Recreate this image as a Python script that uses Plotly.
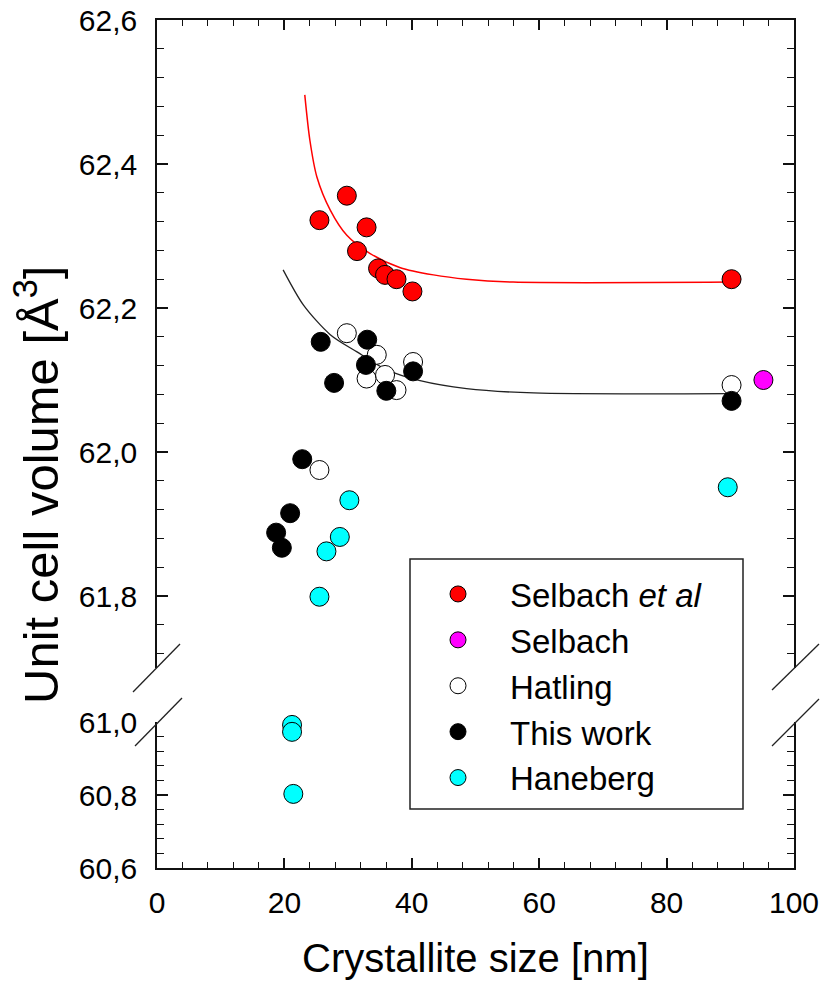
import plotly.graph_objects as go

# Crystallite size [nm] and unit cell volume [Å^3] for each data set
selbach_et_al_size = [29.8, 25.5, 32.9, 31.4, 34.7, 35.8, 37.6, 40.1, 90.2]
selbach_et_al_vol = [62.356, 62.322, 62.312, 62.279, 62.255, 62.246, 62.240, 62.223, 62.240]

selbach_size = [95.2]
selbach_vol = [62.100]

hatling_size = [29.8, 34.5, 32.9, 35.8, 37.6, 40.2, 25.5, 90.2]
hatling_vol = [62.165, 62.135, 62.102, 62.107, 62.086, 62.125, 61.975, 62.093]

this_work_size = [25.7, 33.0, 32.8, 27.8, 36.0, 40.2, 22.8, 20.9, 18.7, 19.6, 90.2]
this_work_vol = [62.153, 62.156, 62.121, 62.096, 62.085, 62.112, 61.990, 61.915, 61.888, 61.867, 62.071]

haneberg_size = [30.2, 28.7, 26.6, 25.5, 89.6, 21.2, 21.2, 21.4]
haneberg_vol = [61.933, 61.882, 61.862, 61.799, 61.951, 60.992, 60.973, 60.803]

# Fitted trend lines
red_fit_size = [23.2, 24.0, 25.1, 27.2, 29.8, 33.4, 38.2, 43.4, 48.6, 55.9, 90.1]
red_fit_vol = [62.496, 62.433, 62.382, 62.336, 62.301, 62.276, 62.256, 62.246, 62.240, 62.236, 62.236]

black_fit_size = [19.8, 23.0, 27.2, 31.4, 36.1, 41.3, 48.6, 59.1, 90.1]
black_fit_vol = [62.253, 62.204, 62.163, 62.139, 62.114, 62.099, 62.088, 62.082, 62.081]

# Broken y axis: upper and lower ranges
upper_range = [61.7, 62.6]
lower_range = [60.6, 61.0]
x_range = [0, 100]

FONT = "Liberation Sans, Arial, sans-serif"
MARKER_SIZE = 19

fig = go.Figure()

# trend lines (drawn beneath the markers)
fig.add_trace(go.Scatter(x=red_fit_size, y=red_fit_vol, mode="lines", xaxis="x2", yaxis="y",
                         line=dict(color="#ff0000", width=1.5, shape="spline", smoothing=0.8),
                         showlegend=False, hoverinfo="skip"))
fig.add_trace(go.Scatter(x=black_fit_size, y=black_fit_vol, mode="lines", xaxis="x2", yaxis="y",
                         line=dict(color="#222222", width=1.3, shape="spline", smoothing=0.8),
                         showlegend=False, hoverinfo="skip"))


def marker(color):
    return dict(size=MARKER_SIZE, color=color, line=dict(color="black", width=1))


series = [
    ("Selbach <i>et al</i>", selbach_et_al_size, selbach_et_al_vol, "#ff0000"),
    ("Selbach", selbach_size, selbach_vol, "#ff00ff"),
    ("Hatling", hatling_size, hatling_vol, "#ffffff"),
    ("This work", this_work_size, this_work_vol, "#000000"),
    ("Haneberg", haneberg_size, haneberg_vol, "#00ffff"),
]

for i, (name, xs, ys, color) in enumerate(series):
    up_x = [x for x, y in zip(xs, ys) if y >= upper_range[0]]
    up_y = [y for y in ys if y >= upper_range[0]]
    lo_x = [x for x, y in zip(xs, ys) if y <= lower_range[1]]
    lo_y = [y for y in ys if y <= lower_range[1]]
    fig.add_trace(go.Scatter(x=up_x, y=up_y, mode="markers", name=name, xaxis="x2", yaxis="y",
                             marker=marker(color), legendgroup=f"g{i}", cliponaxis=False))
    if lo_x:
        fig.add_trace(go.Scatter(x=lo_x, y=lo_y, mode="markers", name=name, xaxis="x", yaxis="y2",
                                 marker=marker(color), legendgroup=f"g{i}", showlegend=False,
                                 cliponaxis=False))

L, R, T, B = 157, 31, 20, 113
W, H = 825, 981
plot_h = H - T - B
gap_top_px = 668  # pixel row where the upper segment ends
gap_bot_px = 722  # pixel row where the lower segment starts
upper_dom = [(H - B - gap_top_px) / plot_h, 1.0]
lower_dom = [0.0, (H - B - gap_bot_px) / plot_h]

axis_common = dict(showline=True, linecolor="#111111", linewidth=1.6,
                   ticks="inside", tickcolor="#111111", tickwidth=1.5,
                   showgrid=False, zeroline=False, automargin=False,
                   tickfont=dict(family=FONT, size=30, color="black"))

yax = dict(axis_common, range=upper_range, domain=upper_dom, dtick=0.2, tick0=0,
           tickformat=".1f", ticklen=11, mirror="ticks", anchor="x2",
           ticklabelstandoff=12,
           minor=dict(dtick=0.04, tick0=0, ticks="inside", ticklen=7,
                      tickcolor="#111111", tickwidth=1.3, showgrid=False))
yax2 = dict(axis_common, range=lower_range, domain=lower_dom, dtick=0.2, tick0=0,
            tickformat=".1f", ticklen=11, mirror="ticks", anchor="x",
            ticklabelstandoff=12,
            minor=dict(dtick=0.04, tick0=0, ticks="inside", ticklen=7,
                       tickcolor="#111111", tickwidth=1.3, showgrid=False))
xax = dict(axis_common, range=x_range, domain=[0, 1], dtick=20, ticklen=10, anchor="y2",
           ticklabelstandoff=7,
           minor=dict(dtick=4, ticks="inside", ticklen=6, tickcolor="#111111",
                      tickwidth=1.3, showgrid=False))
xax2 = dict(axis_common, range=x_range, domain=[0, 1], dtick=20, ticklen=10, anchor="y",
            side="top", showticklabels=False,
            minor=dict(dtick=4, ticks="inside", ticklen=6, tickcolor="#111111",
                       tickwidth=1.3, showgrid=False))


def px_to_paper(px, py):
    return (px - L) / (W - L - R), (H - B - py) / plot_h


shapes = []
# break marks on both vertical axes
for (x0, y0, x1, y1) in [(133, 692, 180, 644), (135, 746, 182, 698),
                         (772, 690, 819, 644), (772, 746, 819, 699)]:
    a0, b0 = px_to_paper(x0, y0)
    a1, b1 = px_to_paper(x1, y1)
    shapes.append(dict(type="line", xref="paper", yref="paper", x0=a0, y0=b0, x1=a1, y1=b1,
                       line=dict(color="#222222", width=1.3)))
# legend frame
lx0, ly0 = px_to_paper(410, 809)
lx1, ly1 = px_to_paper(743, 559)
shapes.append(dict(type="rect", xref="paper", yref="paper", x0=lx0, y0=ly0, x1=lx1, y1=ly1,
                   line=dict(color="#222222", width=1.5), fillcolor="rgba(0,0,0,0)"))

ytx, yty = px_to_paper(37, 485)
xtx, xty = px_to_paper(476, 958)
annotations = [
    dict(text="Unit cell volume [Å<sup>3</sup>]", xref="paper", yref="paper", x=ytx, y=yty,
         textangle=-90, showarrow=False, xanchor="center", yanchor="middle",
         font=dict(family=FONT, size=49, color="black")),
    dict(text="Crystallite size [nm]", xref="paper", yref="paper", x=xtx, y=xty,
         showarrow=False, xanchor="center", yanchor="middle",
         font=dict(family=FONT, size=40, color="black")),
]

leg_x, leg_y = px_to_paper(406, 566)

fig.update_layout(
    width=W, height=H,
    margin=dict(l=L, r=R, t=T, b=B, autoexpand=False),
    paper_bgcolor="white", plot_bgcolor="white",
    separators=",.",
    xaxis=xax, xaxis2=xax2, yaxis=yax, yaxis2=yax2,
    shapes=shapes, annotations=annotations,
    showlegend=True,
    legend=dict(x=leg_x, y=leg_y, xanchor="left", yanchor="top",
                bgcolor="rgba(0,0,0,0)", borderwidth=0,
                font=dict(family=FONT, size=33, color="black"),
                itemwidth=94, tracegroupgap=0, traceorder="grouped"),
)

fig.write_html("out.html")
